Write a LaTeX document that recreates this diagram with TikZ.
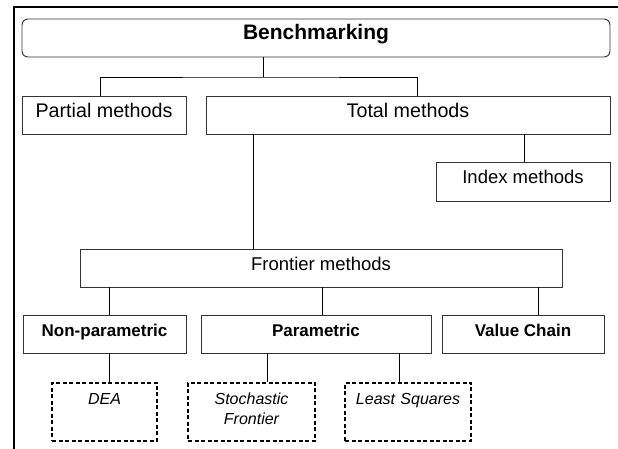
\documentclass[tikz,border=0pt]{standalone}
\usepackage{fontspec}
\setmainfont{Liberation Sans}
\begin{document}
\begin{tikzpicture}[x=1pt,y=-1pt,
  box/.style={draw=black!80, line width=0.9pt, inner sep=0pt, align=center, text height=21.5pt, text depth=16.5pt},
  dbox/.style={draw=black, line width=1.6pt, dash pattern=on 4pt off 2.5pt, inner sep=0pt, align=center,
     font=\fontsize{16}{20}\selectfont\itshape, anchor=north},
  conn/.style={draw=black, line width=0.8pt},
  frame/.style={draw=black, line width=2.7pt}]
\useasboundingbox (0,0) rectangle (618,449);
\draw[frame] (14,449) -- (14,7) -- (618,7);

\node[box, rounded corners=6pt, minimum width=588pt, text height=21pt, text depth=17pt, font=\fontsize{21}{25}\bfseries] (bench) at (316,38) {Benchmarking};
\node[box, minimum width=164pt, font=\fontsize{19.7}{23}\selectfont] (partial) at (104,115) {Partial methods};
\node[box, minimum width=404pt, font=\fontsize{19.7}{23}\selectfont] (total) at (408,115) {Total methods};
\node[box, minimum width=174pt, text height=22pt, text depth=17pt, font=\fontsize{18.5}{22}\selectfont] (index) at (523,181.5) {Index methods};
\node[box, minimum width=482pt, font=\fontsize{18.5}{22}\selectfont] (frontier) at (321,268) {Frontier methods};
\node[box, minimum width=163pt, font=\fontsize{17}{20}\bfseries] (nonpar) at (104.5,334) {Non-parametric};
\node[box, minimum width=230pt, font=\fontsize{17}{20}\bfseries] (par) at (316,334) {Parametric};
\node[box, minimum width=162pt, font=\fontsize{17}{20}\bfseries] (value) at (523,334) {Value Chain};
\node[dbox, text width=105pt, text height=21.5pt, text depth=36.5pt] (dea) at (104.5,382) {DEA\hspace*{12pt}};
\node[dbox, text width=127pt, text height=22pt, text depth=36pt] (sto) at (251.5,382) {Stochastic\\Frontier};
\node[dbox, text width=126pt, text height=21.5pt, text depth=36.5pt] (ls) at (408,382) {Least Squares};

\coordinate (j1) at (263,77);
\draw[conn] ([xshift=-53pt]bench.south) -- (j1);
\draw[conn] ([xshift=-4pt]partial.north) |- (j1) -| ([xshift=9pt]total.north);
\draw[conn] ([xshift=-155pt]total.south) -- ([xshift=-68pt]frontier.north);
\draw[conn] ([xshift=116pt]total.south) -- ([xshift=1pt]index.north);
\draw[conn] ([xshift=-212pt]frontier.south) -- ([xshift=4.5pt]nonpar.north);
\draw[conn] ([xshift=1pt]frontier.south) -- ([xshift=6pt]par.north);
\draw[conn] ([xshift=217pt]frontier.south) -- ([xshift=15pt]value.north);
\draw[conn] ([xshift=4.5pt]nonpar.south) -- ([xshift=4.5pt]dea.north);
\draw[conn] ([xshift=-49pt]par.south) -- ([xshift=15.5pt]sto.north);
\draw[conn] ([xshift=83pt]par.south) -- ([xshift=-9pt]ls.north);
\end{tikzpicture}
\end{document}
